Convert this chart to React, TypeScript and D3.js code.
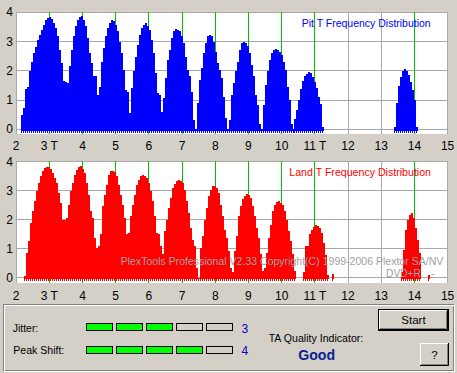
import * as d3 from "d3";

// ---- values ----
const tTicks = [2, 3, 4, 5, 6, 7, 8, 9, 10, 11, 12, 13, 14, 15];
const tLabels = ["2", "3 T", "4", "5", "6", "7", "8", "9", "10", "11 T", "12", "13", "14", "15"];
const markedT = [3, 4, 5, 6, 7, 8, 9, 10, 11, 14];
const yTicks = [0, 1, 2, 3, 4];
const binWidth = 0.0603; // T per histogram bin (2 px on screen)

// Pit: contiguous runs of bins, each with its start (in T)
const pitStarts = [2.148, 6.427, 10.376, 13.389];
const pitRunA = [
  0.49, 0.74, 1.38, 1.46, 1.98, 2.32, 2.6, 2.83, 3.06, 3.23, 3.4, 3.58, 3.73, 3.8, 3.84, 3.77,
  3.63, 3.46, 3.18, 2.72, 2.26, 1.67, 1.63, 1.6, 2.17, 2.72, 3.18, 3.52, 3.75, 3.84, 3.87, 3.75,
  3.52, 3.12, 2.6, 2.26, 1.81, 1.81, 1.18, 1.46, 2.32, 2.78, 3.18, 3.46, 3.63, 3.73, 3.69, 3.58,
  3.35, 3.0, 2.6, 2.03, 1.35, 1.29, 0.55, 1.4, 2.0, 2.49, 2.89, 3.24, 3.46, 3.58, 3.63, 3.54,
  3.4, 3.06, 2.6, 1.92, 1.23, 1.18, 0.6,
];
const pitRunB = [
  1.06, 1.75, 2.38, 2.72, 3.12, 3.35, 3.43, 3.4, 3.35, 3.18, 2.95, 2.49, 2.03, 1.81, 1.29, 0.32, 0,
  0.89, 1.69, 2.09, 2.6, 2.95, 3.18, 3.24, 3.2, 3.0, 2.66, 2.26, 2.03, 1.75, 1.12, 0.38, 0,
  0.32, 1.18, 1.58, 1.98, 2.32, 2.72, 2.95, 3.0, 2.95, 2.84, 2.6, 2.2, 1.81, 1.18, 0.83, 0.2, 0,
  0.83, 1.52, 1.98, 2.38, 2.6, 2.7, 2.74, 2.72, 2.66, 2.55, 2.32, 2.03, 1.46, 1.0, 0.2, 0,
];
const pitRunC = [0.34, 0.66, 1.0, 1.37, 1.66, 1.83, 1.9, 1.95, 1.92, 1.8, 1.63, 1.4, 1.12, 0.87, 0.09];
const pitRunD = [0.08, 0.89, 1.49, 1.78, 1.98, 2.07, 2.01, 1.86, 1.63, 1.35, 1.0, 0.09];

// Land
const landStarts = [2.229, 6.449, 10.647, 11.506, 13.6, 14.414];
const landRunA = [
  0.05, 0.85, 1.26, 1.89, 2.29, 2.64, 2.98, 3.27, 3.5, 3.67, 3.79, 3.82, 3.82, 3.77, 3.62, 3.44,
  3.27, 2.93, 2.58, 2.0, 2.0, 2.06, 2.52, 2.98, 3.27, 3.54, 3.73, 3.82, 3.85, 3.77, 3.62, 3.27,
  2.87, 2.29, 2.06, 1.37, 1.03, 1.08, 1.49, 2.47, 2.87, 3.21, 3.56, 3.67, 3.7, 3.65, 3.5, 3.21,
  2.87, 2.52, 2.06, 1.49, 1.54, 2.12, 2.52, 2.87, 3.21, 3.39, 3.5, 3.54, 3.5, 3.44, 3.27, 2.98,
  2.64, 2.12, 1.54, 1.49, 1.08, 0.8,
];
const landRunB = [
  1.6, 2.0, 2.41, 2.75, 3.1, 3.24, 3.33, 3.39, 3.35, 3.27, 3.04, 2.64, 2.23, 1.72, 1.31, 1.08, 0.33, 0,
  1.03, 1.43, 2.0, 2.41, 2.81, 3.04, 3.16, 3.16, 3.1, 2.93, 2.52, 2.12, 1.66, 1.37, 0.91, 0.33, 0.2,
  0.91, 1.43, 2.12, 2.47, 2.7, 2.83, 2.89, 2.87, 2.75, 2.47, 2.12, 1.72, 1.37, 0.8, 0.22,
  0.33, 0.85, 1.37, 1.83, 2.29, 2.52, 2.62, 2.64, 2.58, 2.52, 2.29, 2.0, 1.6, 1.26, 0.8, 0.22,
];
const landRunC = [0.2, 1.1, 1.1, 1.5, 1.65, 1.76, 1.81, 1.79, 1.71, 1.53, 1.19, 0.78, 0.09];
const landRunD = [0.12];
const landRunE = [0.2, 0.96, 1.65, 1.99, 2.17, 2.23, 2.05, 1.71, 1.3, 0.84];
const landRunF = [0.1];

const jitterLevel = 3;
const peakShiftLevel = 4;
const ledCount = 5;

const pitRuns = [pitRunA, pitRunB, pitRunC, pitRunD].map((values, i) => ({ start: pitStarts[i], values }));
const landRuns = [landRunA, landRunB, landRunC, landRunD, landRunE, landRunF].map((values, i) => ({
  start: landStarts[i],
  values,
}));

const FONT = "'Liberation Sans', Arial, sans-serif";
const BG = "#d4d0c8";
const GRID = "#a8a8a8";
const MARK = "#00c000";

const x = d3.scaleLinear().domain([2, 15]).range([16.1, 447.6]);
const col = (t: number) => Math.floor(x(t)) + 0.5;

type Run = { start: number; values: number[] };

function Histogram({
  runs,
  color,
  y,
  whiteTop,
  whiteBottom,
  labelY,
  title,
  titleX,
  titleY,
  titleLength,
}: {
  runs: Run[];
  color: string;
  y: d3.ScaleLinear<number, number>;
  whiteTop: number;
  whiteBottom: number;
  labelY: number;
  title: string;
  titleX: number;
  titleY: number;
  titleLength: number;
}) {
  const zeroRow = Math.floor(y(0));
  const row = (v: number) => Math.floor(y(v)) + 0.5;
  const left = Math.floor(x(2));
  const right = Math.floor(x(15)) + 1;

  const bars: JSX.Element[] = [];
  runs.forEach((run, r) =>
    run.values.forEach((v, i) => {
      const x0 = Math.round(x(run.start + i * binWidth));
      const x1 = Math.round(x(run.start + (i + 1) * binWidth));
      const top = Math.round(y(v));
      bars.push(
        <rect key={`b${r}-${i}`} x={x0} y={top} width={x1 - x0} height={zeroRow + 2 - top} fill={color} />,
        <rect key={`c${r}-${i}`} x={x0} y={zeroRow + 2} width={1} height={2} fill={color} />
      );
    })
  );

  return (
    <g>
      <rect x={left} y={whiteTop} width={right - left} height={whiteBottom - whiteTop} fill="#fff" />
      {yTicks.map((v) => (
        <line key={`h${v}`} x1={left} x2={right} y1={row(v)} y2={row(v)} stroke={GRID} />
      ))}
      {tTicks.map((t) => (
        <line key={`v${t}`} x1={col(t)} x2={col(t)} y1={whiteTop} y2={whiteBottom} stroke={GRID} />
      ))}
      {markedT.map((t) => (
        <line key={`g${t}`} x1={col(t)} x2={col(t)} y1={whiteTop} y2={whiteBottom} stroke={MARK} />
      ))}
      {bars}
      {yTicks.map((v) => (
        <text key={`yl${v}`} x={9.5} y={y(v) + 4} textAnchor="middle" fontSize={12} fontFamily={FONT} fill="#000">
          {v}
        </text>
      ))}
      {tTicks.map((t, i) => (
        <text key={`xl${t}`} x={x(t)} y={labelY} textAnchor="middle" fontSize={12} fontFamily={FONT} fill="#000">
          {tLabels[i]}
        </text>
      ))}
      <text
        x={titleX}
        y={titleY}
        fontSize={11}
        fontFamily={FONT}
        fill={color}
        textLength={titleLength}
        lengthAdjust="spacingAndGlyphs"
      >
        {title}
      </text>
    </g>
  );
}

function Leds({ y, level }: { y: number; level: number }) {
  return (
    <g>
      {d3.range(ledCount).map((i) => (
        <rect
          key={i}
          x={86.5 + i * 30}
          y={y + 0.5}
          width={26}
          height={7}
          fill={i < level ? "#00ff00" : BG}
          stroke="#000"
        />
      ))}
    </g>
  );
}

function Button({ x0, y0, w, h, label, isDefault }: { x0: number; y0: number; w: number; h: number; label: string; isDefault?: boolean }) {
  const o = isDefault ? 1 : 0;
  const a = x0 + o, b = y0 + o, c = x0 + w - o, d = y0 + h - o;
  return (
    <g>
      {isDefault && <rect x={x0 + 0.5} y={y0 + 0.5} width={w - 1} height={h - 1} fill="none" stroke="#000" />}
      <rect x={a} y={b} width={c - a} height={d - b} fill={BG} />
      <path d={`M${a + 0.5},${d - 1} V${b + 0.5} H${c - 1}`} stroke="#fff" fill="none" />
      <path d={`M${a},${d - 0.5} H${c - 0.5} V${b}`} stroke="#000" fill="none" />
      <path d={`M${a + 1},${d - 1.5} H${c - 1.5} V${b + 1}`} stroke="#808080" fill="none" />
      <text x={(x0 + x0 + w) / 2} y={y0 + h / 2 + 4} textAnchor="middle" fontSize={11.5} fontFamily={FONT} fill="#000">
        {label}
      </text>
    </g>
  );
}

export default function App() {
  const yPit = d3.scaleLinear().domain([0, 4]).range([129.4, 12.4]);
  const yLand = d3.scaleLinear().domain([0, 4]).range([277.5, 161.9]);

  return (
    <div style={{ position: "absolute", left: 0, top: 0 }}>
      <svg width={457} height={373} style={{ display: "block" }}>
        <rect width={457} height={373} fill={BG} />
        <Histogram
          runs={pitRuns}
          color="#0000ff"
          y={yPit}
          whiteTop={12}
          whiteBottom={134}
          labelY={150}
          title="Pit T Frequency Distribution"
          titleX={301.7}
          titleY={27}
          titleLength={129}
        />
        <Histogram
          runs={landRuns}
          color="#ff0000"
          y={yLand}
          whiteTop={161}
          whiteBottom={283}
          labelY={300}
          title="Land T Frequency Distribution"
          titleX={289.3}
          titleY={176}
          titleLength={141.7}
        />
        <text x={120.7} y={264.5} fontSize={11.5} fontFamily={FONT} fill="#a0a0a0" textLength={322.6} lengthAdjust="spacingAndGlyphs">
          PlexTools Professional V2.33 Copyright(C) 1999-2006 Plextor SA/NV
        </text>
        <text x={386} y={276.5} fontSize={11.5} fontFamily={FONT} fill="#a0a0a0" textLength={35} lengthAdjust="spacingAndGlyphs">
          DVD+R
        </text>
        <text x={431} y={276.5} fontSize={11.5} fontFamily={FONT} fill="#a0a0a0">
          -
        </text>

        {/* lower group box */}
        <rect x={3.5} y={304.5} width={450} height={66} fill="none" stroke="#808080" />
        <rect x={4.5} y={305.5} width={450} height={66} fill="none" stroke="#fff" />

        <text x={12.7} y={332} fontSize={11.5} fontFamily={FONT} fill="#000" textLength={25.6} lengthAdjust="spacingAndGlyphs">
          Jitter:
        </text>
        <text x={13.3} y={354} fontSize={11.5} fontFamily={FONT} fill="#000" textLength={51} lengthAdjust="spacingAndGlyphs">
          Peak Shift:
        </text>
        <Leds y={323} level={jitterLevel} />
        <Leds y={346} level={peakShiftLevel} />
        <text x={241.5} y={332.5} fontSize={12} fontFamily={FONT} fill="#0000cc">
          {jitterLevel}
        </text>
        <text x={241.5} y={355} fontSize={12} fontFamily={FONT} fill="#0000cc">
          {peakShiftLevel}
        </text>
        <text x={268.7} y={341.5} fontSize={11.5} fontFamily={FONT} fill="#000" textLength={94.6} lengthAdjust="spacingAndGlyphs">
          TA Quality Indicator:
        </text>
        <text x={298.3} y={359.5} fontSize={14.5} fontWeight="bold" fontFamily={FONT} fill="#0a1f8f" textLength={36.7} lengthAdjust="spacingAndGlyphs">
          Good
        </text>
        <Button x0={378} y0={309} w={71} h={22} label="Start" isDefault />
        <Button x0={420} y0={343} w={29} h={23} label="?" />
      </svg>
    </div>
  );
}
